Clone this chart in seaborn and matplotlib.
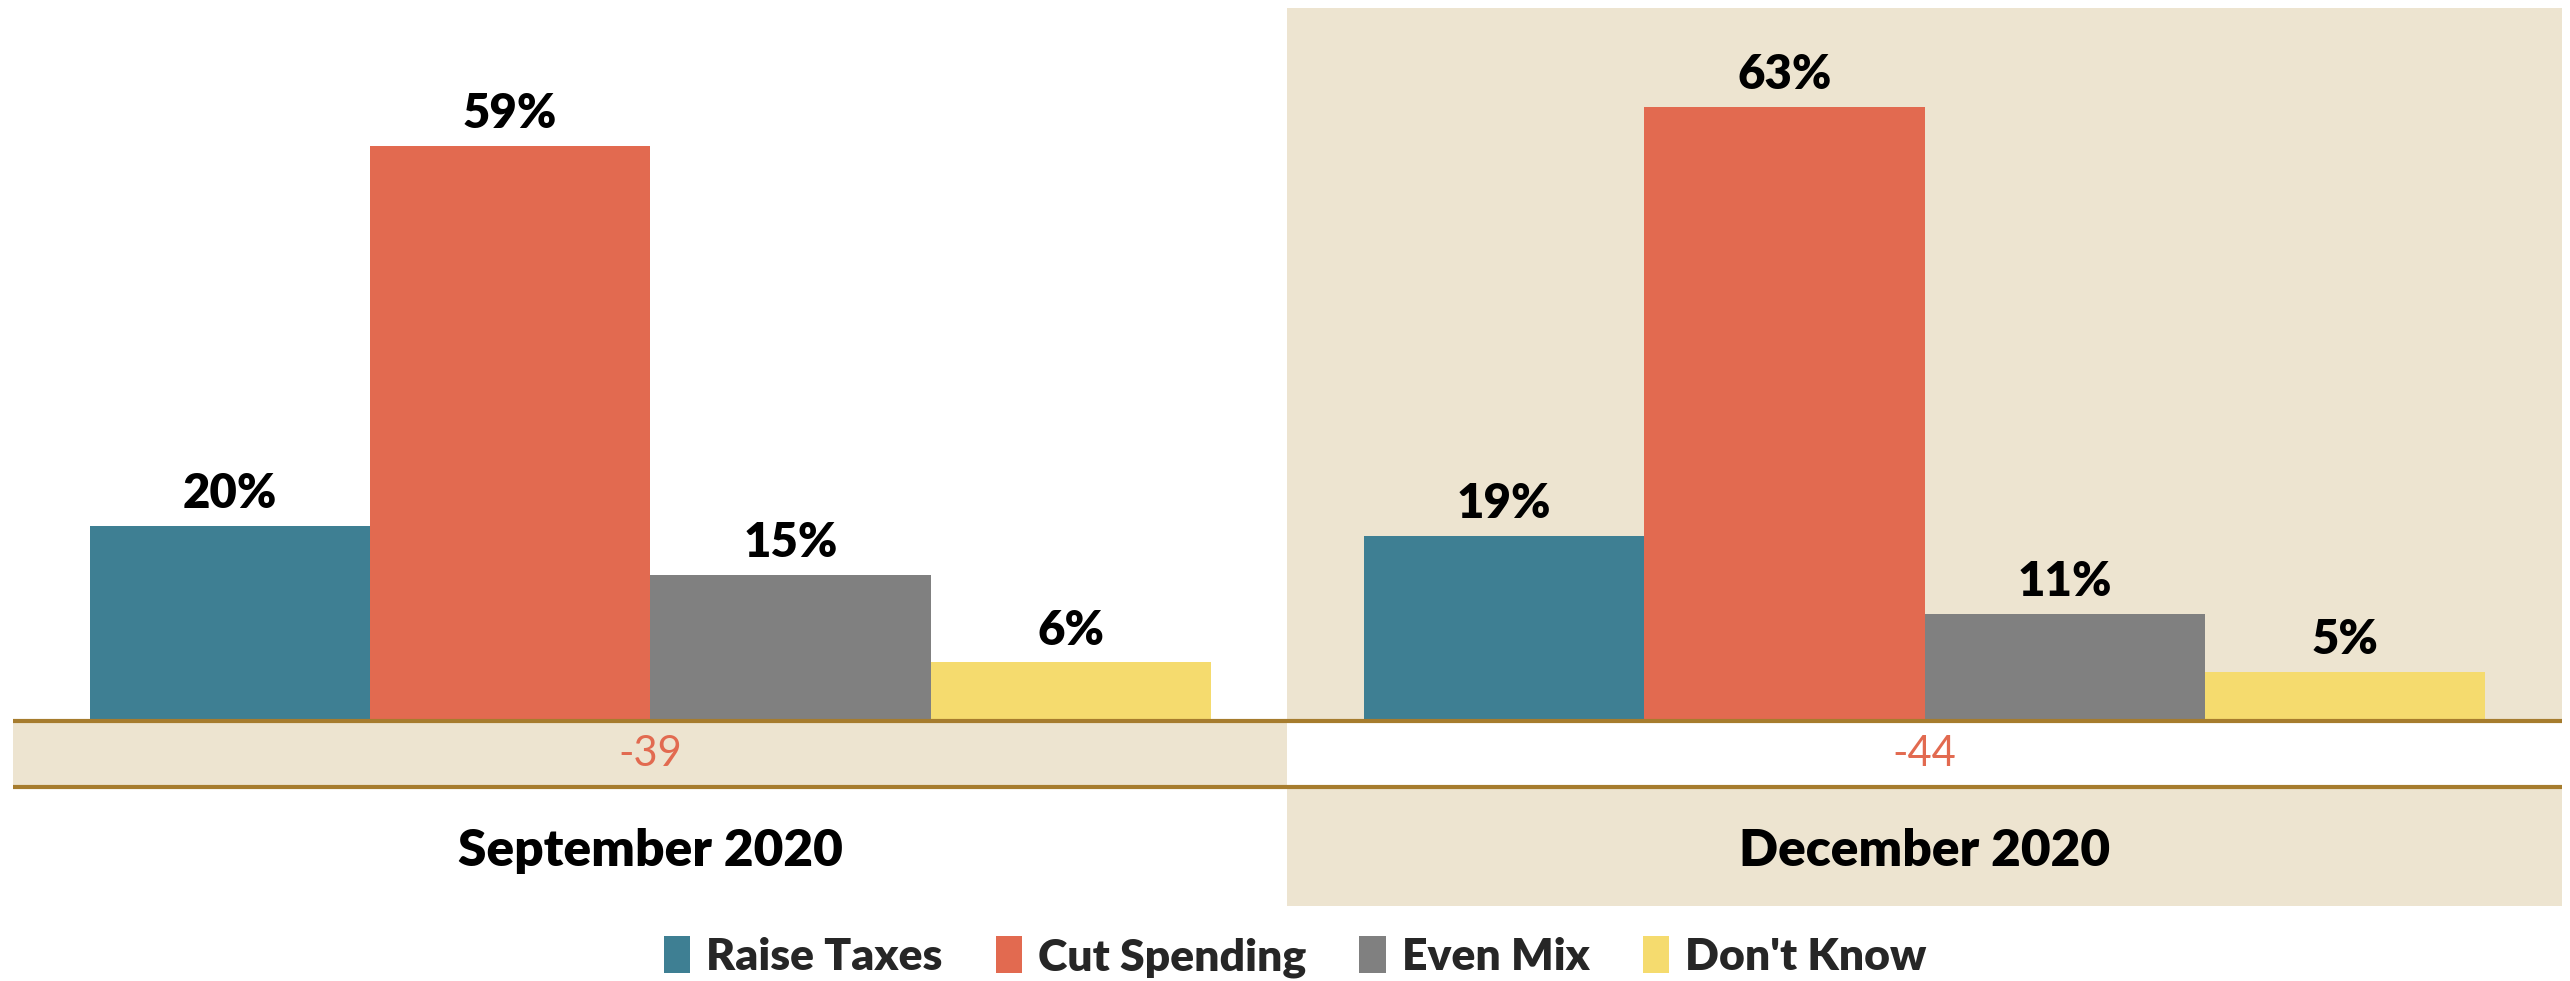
import matplotlib
matplotlib.use("Agg")
import matplotlib.pyplot as plt
import seaborn as sns
import pandas as pd
from matplotlib.patches import Rectangle

periods = ["September 2020", "December 2020"]
responses = ["Raise Taxes", "Cut Spending", "Even Mix", "Don't Know"]
raise_taxes = [20, 19]
cut_spending = [59, 63]
even_mix = [15, 11]
dont_know = [6, 5]
net = [-39, -44]

colors = ["#3E7F93", "#E26A50", "#808080", "#F5DB6E"]
beige = "#EDE4D0"
gold = "#A67C2E"

rows = []
for i, p in enumerate(periods):
    for r, vals in zip(responses, [raise_taxes, cut_spending, even_mix, dont_know]):
        rows.append({"period": p, "response": r, "value": vals[i]})
df = pd.DataFrame(rows)

sns.set_theme(style="white")
plt.rcParams["font.family"] = ["Lato", "DejaVu Sans"]

fig = plt.figure(figsize=(25.7, 9.81), dpi=100)
ax = fig.add_axes([8 / 1568, 1 - 906 / 981, (1563 - 8) / 1568, (906 - 8) / 981])

ROW = -6.77
YMIN, YMAX = -18.97, 73.1

# background panels
ax.add_patch(Rectangle((0.5, YMIN), 1.0, YMAX - YMIN, facecolor=beige, edgecolor="none", zorder=0))
ax.add_patch(Rectangle((-0.5, ROW), 1.0, -ROW, facecolor=beige, edgecolor="none", zorder=0.5))
ax.add_patch(Rectangle((0.5, ROW), 1.0, -ROW, facecolor="white", edgecolor="none", zorder=0.5))

sns.barplot(data=df, x="period", y="value", hue="response", order=periods,
            hue_order=responses, palette=colors, width=0.88, gap=0,
            saturation=1, linewidth=0, ax=ax, zorder=2)

for c in ax.containers:
    ax.bar_label(c, fmt="{:.0f}%", padding=7, fontsize=34, fontweight="heavy", color="black")

ax.axhline(0, color=gold, lw=3, zorder=3)
ax.axhline(ROW, color=gold, lw=3, zorder=3)

for i, p in enumerate(periods):
    ax.text(i, ROW / 2, f"{net[i]}", ha="center", va="center", fontsize=30,
            color="#E26A50", zorder=4)
    ax.text(i, -13.3, p, ha="center", va="center", fontsize=37,
            fontweight="heavy", color="black", zorder=4)

ax.set_xlim(-0.5, 1.5)
ax.set_ylim(YMIN, YMAX)
ax.axis("off")

handles, labels = ax.get_legend_handles_labels()
if ax.get_legend() is not None:
    ax.get_legend().remove()
fig.legend(handles, labels, loc="center", bbox_to_anchor=(1295 / 2570, 1 - 957 / 981),
           ncol=4, frameon=False, prop={"size": 32, "weight": "heavy"},
           handlelength=0.6, handleheight=0.9, handletextpad=0.35, columnspacing=1.2)

fig.savefig("out.png", dpi=100)
